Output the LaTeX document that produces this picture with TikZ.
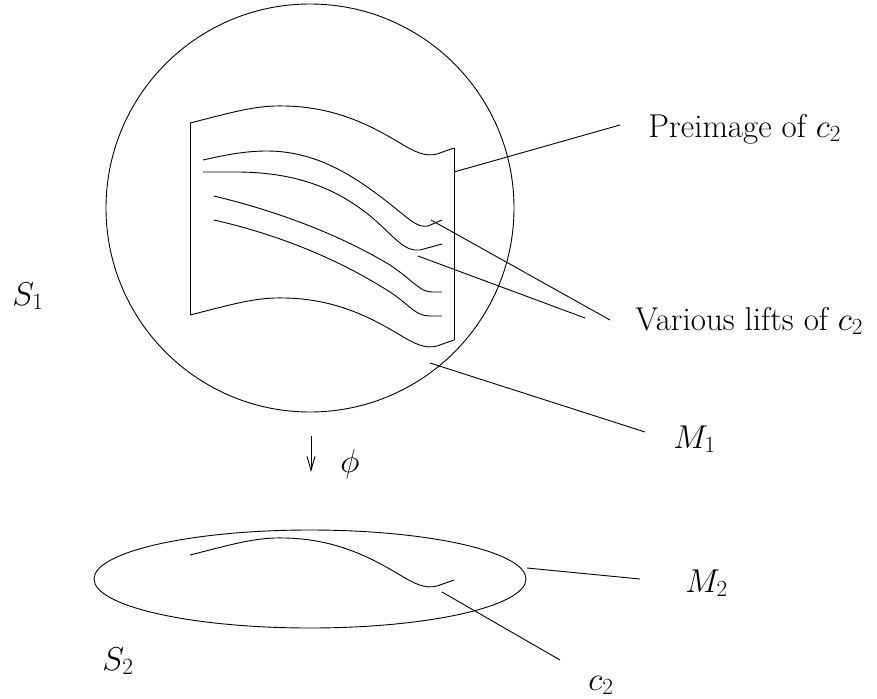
\documentclass[tikz,border=0pt]{standalone}
\usepackage{fix-cm}
\usetikzlibrary{arrows.meta}

% The curve c_2; the sheet edges are copies of it
\newcommand{\cwave}[1]{%
  \draw[shift={#1}] (190,123) .. controls (230,113) and (255,105) .. (285,106)
    .. controls (335,107) and (370,125) .. (400,143)
    .. controls (415,152) and (425,157) .. (437,154) -- (454,148);}

\begin{document}
\begin{tikzpicture}[x=1pt,y=-1pt,line width=0.9pt,
    lbl/.style={anchor=base west,inner sep=0pt,font=\fontsize{33}{40}\selectfont}]
  \useasboundingbox (0,0) rectangle (877,698);

  % Sphere S_1 and disc M_2
  \draw (310,208) circle[radius=204];
  \draw (310,579) ellipse[x radius=216,y radius=49];

  % Preimage sheet
  \coordinate (sheetTL) at (190,123);
  \coordinate (sheetBL) at (190,315);
  \coordinate (sheetTR) at (454,148);
  \coordinate (sheetBR) at (454,340);
  \cwave{(0,0)}
  \cwave{(0,192)}
  \draw (sheetTL) -- (sheetBL);
  \draw (sheetTR) -- (sheetBR);

  % Lifts of c_2
  \draw (203,160) .. controls (225,155) and (245,151) .. (267,151)
    .. controls (320,151) and (360,180) .. (395,208)
    .. controls (410,220) and (418,228) .. (428,226) -- (442,220);
  \draw (203,172) -- (240,172) .. controls (300,173) and (340,190) .. (375,220)
    .. controls (395,238) and (405,252) .. (420,250) -- (442,244);
  \draw (214,196) .. controls (280,212) and (340,235) .. (390,265)
    .. controls (415,282) and (420,292) .. (432,292) -- (442,292);
  \draw (214,220) .. controls (280,235) and (340,260) .. (390,292)
    .. controls (410,305) and (415,316) .. (430,316) -- (442,316);

  % c_2 in M_2
  \cwave{(0,432)}

  % Map phi
  \coordinate (mapTop) at (311,436);
  \coordinate (mapBot) at (311,472);
  \draw[-{Straight Barb[length=14pt,width=8pt]}] (mapTop) -- (mapBot);
  \node[lbl] (phi) at (340,472) {$\phi$};

  % Labels
  \node[lbl] (preimage) at (648,137) {Preimage of $c_2$};
  \node[lbl] (lifts) at (635,330) {Various lifts of $c_2$};
  \node[lbl] (Mone) at (673,448) {$M_1$};
  \node[lbl] (Sone) at (12,305) {$S_1$};
  \node[lbl] (Mtwo) at (685,592) {$M_2$};
  \node[lbl] (Stwo) at (102,670) {$S_2$};
  \node[lbl] (ctwo) at (588,690) {$c_2$};

  % Leader lines
  \coordinate (preA) at (454,172);  \coordinate (preB) at (620,125);
  \coordinate (liftA) at (431,220); \coordinate (liftB) at (610,320);
  \coordinate (liftC) at (418,256); \coordinate (liftD) at (585,318);
  \coordinate (MoneA) at (430,363); \coordinate (MoneB) at (645,432);
  \coordinate (MtwoA) at (527,568); \coordinate (MtwoB) at (640,579);
  \coordinate (ctwoA) at (442,592); \coordinate (ctwoB) at (560,660);
  \draw (preA) -- (preB);
  \draw (liftA) -- (liftB);
  \draw (liftC) -- (liftD);
  \draw (MoneA) -- (MoneB);
  \draw (MtwoA) -- (MtwoB);
  \draw (ctwoA) -- (ctwoB);
\end{tikzpicture}
\end{document}
